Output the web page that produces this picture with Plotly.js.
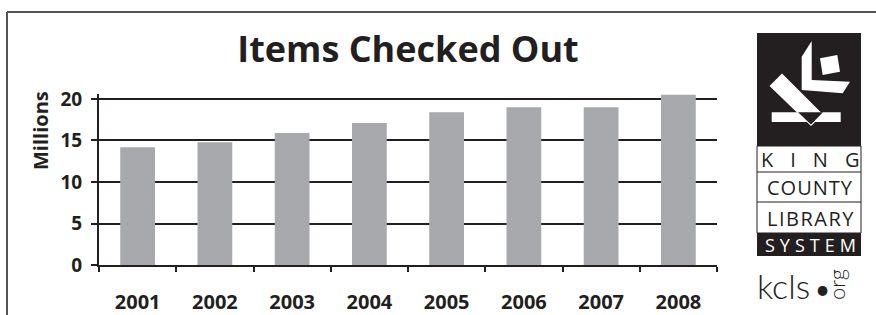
<!DOCTYPE html>
<html>
<head>
<meta charset="utf-8">
<script src="https://cdn.plot.ly/plotly-3.0.1.min.js"></script>
<style>html,body{margin:0;padding:0;background:#fff;}#chart{width:876px;height:315px;}</style>
</head>
<body>
<div id="chart"></div>
<script>
// ---- data ----
const years = ['2001','2002','2003','2004','2005','2006','2007','2008'];
const itemsMillions = [14.2, 14.8, 15.9, 17.1, 18.4, 19.0, 19.0, 20.5];
const yTicks = [0, 5, 10, 15, 20];
const yTickLabels = ['0', '5', '10', '15', '20'];

// ---- layout helpers (pixel -> paper) ----
const L = 99, R = 717, T = 94, B = 265, W = 876, H = 315;
function px(x) { return (x - L) / (R - L); }
function py(y) { return (B - y) / (B - T); }
function poly(pts) {
  return 'M ' + pts.map(p => px(p[0]).toFixed(5) + ',' + py(p[1]).toFixed(5)).join(' L ') + ' Z';
}
function rect(x0, y0, x1, y1, fill, line) {
  return {type: 'rect', xref: 'paper', yref: 'paper', x0: px(x0), x1: px(x1), y0: py(y0), y1: py(y1),
    fillcolor: fill, line: line || {width: 0}, layer: 'above'};
}
function pathShape(pts, fill) {
  return {type: 'path', xref: 'paper', yref: 'paper', path: poly(pts), fillcolor: fill, line: {width: 0}, layer: 'above'};
}
function lineShape(x0, y0, x1, y1, color, width) {
  return {type: 'line', xref: 'paper', yref: 'paper', x0: px(x0), x1: px(x1), y0: py(y0), y1: py(y1),
    line: {color: color, width: width}, layer: 'above'};
}

const ink = '#231f20';
const shapes = [
  // outer frame
  lineShape(7, 12, 876, 12, '#555', 2),
  lineShape(7, 12, 7, 315, '#555', 2),
  // logo
  rect(757, 33, 861, 146, ink),
  rect(757, 146, 861, 233, '#ffffff', {color: ink, width: 1}),
  lineShape(757, 172, 861, 172, ink, 1),
  lineShape(757, 202, 861, 202, ink, 1),
  rect(757, 233, 861, 256, ink),
  pathShape([[801.7,56.7],[811.7,41],[811.7,80],[850,81.7],[842.7,93.3],[801.7,90]], '#ffffff'),
  pathShape([[820,58.3],[837.3,55],[840,71.7],[822.7,75]], '#ffffff'),
  pathShape([[769.5,86],[782,73.5],[823,114.5],[811,126]], '#ffffff'),
  rect(771.7, 112.3, 840.7, 122, '#ffffff'),
  pathShape([[798,112.3],[823,112.3],[811,124.5]], ink)
];

function logoText(text, y, color, size, spacing) {
  return {xref: 'paper', yref: 'paper', x: px(810 + spacing / 2), y: py(y), xanchor: 'center', yanchor: 'middle',
    showarrow: false,
    text: '<span style="letter-spacing:' + spacing + 'px">' + text + '</span>',
    font: {family: 'Open Sans, sans-serif', size: size, color: color}};
}

const annotations = [
  {xref: 'paper', yref: 'paper', x: px(40), y: py(131), xanchor: 'center', yanchor: 'middle',
   textangle: -90, showarrow: false, text: '<b>Millions</b>',
   font: {family: 'Open Sans, sans-serif', size: 20, color: ink}},
  logoText('KING', 159.5, ink, 20, 17),
  logoText('COUNTY', 187.5, ink, 20, 1),
  logoText('LIBRARY', 218, ink, 20, 1.5),
  logoText('SYSTEM', 245, '#ffffff', 18, 5),
  {xref: 'paper', yref: 'paper', x: px(755), y: py(285), xanchor: 'left', yanchor: 'middle',
   showarrow: false, text: 'kcls',
   font: {family: 'Lato, sans-serif', size: 34, color: ink, weight: 300}},
  {xref: 'paper', yref: 'paper', x: px(822), y: py(289), xanchor: 'center', yanchor: 'middle',
   showarrow: false, text: '•',
   font: {family: 'Lato, sans-serif', size: 26, color: ink}},
  {xref: 'paper', yref: 'paper', x: px(836), y: py(285), xanchor: 'center', yanchor: 'middle',
   textangle: -90, showarrow: false, text: 'org',
   font: {family: 'Lato, sans-serif', size: 22, color: ink, weight: 300}}
];

const trace = {
  type: 'bar', x: years, y: itemsMillions,
  marker: {color: '#a7a9ac', line: {width: 0}},
  hoverinfo: 'none', cliponaxis: false
};

const layout = {
  width: W, height: H,
  margin: {l: L, r: W - R, t: T, b: H - B, pad: 0},
  paper_bgcolor: '#ffffff', plot_bgcolor: '#ffffff',
  showlegend: false,
  bargap: 0.55,
  title: {text: '<b>Items Checked Out</b>', xref: 'paper', x: 0.5, xanchor: 'center',
    yref: 'container', y: 1 - 49 / H, yanchor: 'middle',
    font: {family: 'Open Sans, sans-serif', size: 36, color: ink}},
  xaxis: {
    type: 'category', showgrid: false, zeroline: false,
    showline: true, linecolor: ink, linewidth: 2,
    ticks: 'outside', tickson: 'boundaries', ticklen: 5, tickwidth: 2, tickcolor: ink,
    ticklabelstandoff: 18,
    tickfont: {family: 'Open Sans, sans-serif', size: 20, color: ink, weight: 'bold'}
  },
  yaxis: {
    range: [0, 20.6], tickvals: yTicks, ticktext: yTickLabels,
    showgrid: true, gridcolor: ink, gridwidth: 2, zeroline: false,
    showline: true, linecolor: ink, linewidth: 2,
    ticks: 'outside', ticklen: 6, tickwidth: 2, tickcolor: ink,
    ticklabelstandoff: 5,
    tickfont: {family: 'Open Sans, sans-serif', size: 19, color: ink, weight: 'bold'}
  },
  shapes: shapes,
  annotations: annotations
};

Plotly.newPlot('chart', [trace], layout, {staticPlot: true, displayModeBar: false});
</script>
</body>
</html>
